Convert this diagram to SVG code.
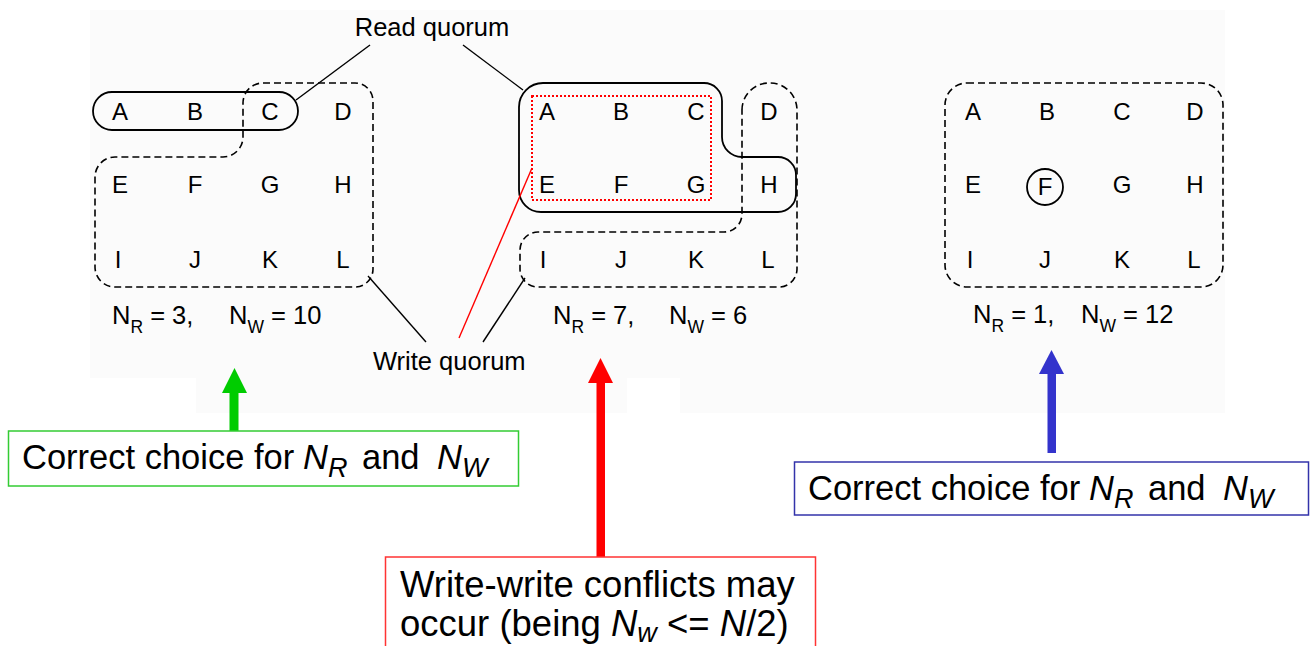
<svg xmlns="http://www.w3.org/2000/svg" width="1311" height="646" viewBox="0 0 1311 646">
  <style>
    text { font-family: "Liberation Sans", Arial, Helvetica, sans-serif; fill: #000; }
    .lbl { font-size: 24px; text-anchor: middle; }
    .cap { font-size: 25.5px; }
    .sub { font-size: 17.5px; }
    .big { font-size: 34.5px; }
    .warn { font-size: 36.5px; }
    .bsub { font-size: 27px; font-style: italic; }
    .it { font-style: italic; }
    .solid { fill: none; stroke: #000; stroke-width: 1.8; }
    .dash { fill: none; stroke: #000; stroke-width: 1.6; stroke-dasharray: 7 4; }
    .lead { stroke: #000; stroke-width: 1.4; fill: none; }
  </style>

  <!-- faint backdrop behind the quorum figure -->
  <rect x="0" y="0" width="1311" height="646" fill="#ffffff"/>
  <path d="M 90,10 H 1225 V 413 H 680 V 378 H 627 V 413 H 196 V 378 H 90 Z" fill="#fbfbfb"/>

  <!-- left panel: N_R = 3, N_W = 10 -->
  <g id="panel-left">
    <rect class="solid" x="93" y="92" width="205" height="38" rx="19"/>
    <path class="dash" d="M 263,83 H 355 A 18 18 0 0 1 373,101 V 269 A 18 18 0 0 1 355,287 H 115 A 20 20 0 0 1 95,267 V 177 A 20 20 0 0 1 115,157 H 223 A 20 20 0 0 0 243,137 V 103 A 20 20 0 0 1 263,83 Z"/>
    <text class="lbl" x="120" y="120">A</text>
    <text class="lbl" x="195" y="120">B</text>
    <text class="lbl" x="270" y="120">C</text>
    <text class="lbl" x="343" y="120">D</text>
    <text class="lbl" x="120" y="193">E</text>
    <text class="lbl" x="195" y="193">F</text>
    <text class="lbl" x="270" y="193">G</text>
    <text class="lbl" x="343" y="193">H</text>
    <text class="lbl" x="118" y="268">I</text>
    <text class="lbl" x="195" y="268">J</text>
    <text class="lbl" x="270" y="268">K</text>
    <text class="lbl" x="343" y="268">L</text>
    <text class="cap" y="324"><tspan x="112">N</tspan><tspan class="sub" dy="9">R</tspan><tspan dy="-9"> = 3,</tspan><tspan x="229">N</tspan><tspan class="sub" dy="9">W</tspan><tspan dy="-9"> = 10</tspan></text>
  </g>

  <!-- middle panel: N_R = 7, N_W = 6 -->
  <g id="panel-middle">
    <path class="solid" d="M 543,83 H 704 A 18 18 0 0 1 722,101 V 137 A 20 20 0 0 0 742,157 H 778 A 18 18 0 0 1 796,175 V 194 A 18 18 0 0 1 778,212 H 541 A 22 22 0 0 1 519,190 V 107 A 24 24 0 0 1 543,83 Z"/>
    <rect x="532" y="96" width="179" height="104" fill="none" stroke="#ff0000" stroke-width="2" stroke-dasharray="2 2"/>
    <path class="dash" d="M 742,110 A 27 27 0 0 1 769,83 H 770 A 27 27 0 0 1 797,110 V 269 A 18 18 0 0 1 779,287 H 538 A 18 18 0 0 1 520,269 V 250 A 18 18 0 0 1 538,232 H 724 A 18 18 0 0 0 742,214 Z"/>
    <text class="lbl" x="547" y="120">A</text>
    <text class="lbl" x="621" y="120">B</text>
    <text class="lbl" x="696" y="120">C</text>
    <text class="lbl" x="769" y="120">D</text>
    <text class="lbl" x="547" y="193">E</text>
    <text class="lbl" x="621" y="193">F</text>
    <text class="lbl" x="696" y="193">G</text>
    <text class="lbl" x="769" y="193">H</text>
    <text class="lbl" x="543" y="268">I</text>
    <text class="lbl" x="621" y="268">J</text>
    <text class="lbl" x="696" y="268">K</text>
    <text class="lbl" x="768" y="268">L</text>
    <text class="cap" y="324"><tspan x="553">N</tspan><tspan class="sub" dy="9">R</tspan><tspan dy="-9"> = 7,</tspan><tspan x="669">N</tspan><tspan class="sub" dy="9">W</tspan><tspan dy="-9"> = 6</tspan></text>
  </g>

  <!-- right panel: N_R = 1, N_W = 12 -->
  <g id="panel-right">
    <rect class="dash" x="945" y="83" width="278" height="204" rx="22"/>
    <circle class="solid" cx="1045" cy="187" r="18"/>
    <text class="lbl" x="973" y="120">A</text>
    <text class="lbl" x="1047" y="120">B</text>
    <text class="lbl" x="1122" y="120">C</text>
    <text class="lbl" x="1195" y="120">D</text>
    <text class="lbl" x="973" y="193">E</text>
    <text class="lbl" x="1045" y="195">F</text>
    <text class="lbl" x="1122" y="193">G</text>
    <text class="lbl" x="1195" y="193">H</text>
    <text class="lbl" x="970" y="268">I</text>
    <text class="lbl" x="1045" y="268">J</text>
    <text class="lbl" x="1122" y="268">K</text>
    <text class="lbl" x="1194" y="268">L</text>
    <text class="cap" y="323"><tspan x="973">N</tspan><tspan class="sub" dy="9">R</tspan><tspan dy="-9"> = 1,</tspan><tspan x="1081">N</tspan><tspan class="sub" dy="9">W</tspan><tspan dy="-9"> = 12</tspan></text>
  </g>

  <!-- quorum captions -->
  <g id="label-read">
    <text class="cap" x="432" y="36" text-anchor="middle">Read quorum</text>
  </g>
  <g id="label-write">
    <text class="cap" x="373" y="370">Write quorum</text>
  </g>

  <!-- leader lines and arrows -->
  <g id="connectors">
    <line class="lead" x1="370" y1="45" x2="296" y2="100"/>
    <line class="lead" x1="463" y1="45" x2="523" y2="90"/>
    <line class="lead" x1="368" y1="276" x2="426" y2="342"/>
    <line class="lead" x1="525" y1="278" x2="483" y2="342"/>
    <line x1="532" y1="168" x2="459" y2="338" stroke="#ff0000" stroke-width="1.4"/>

    <rect x="229.5" y="390" width="9" height="41" fill="#00cc00"/>
    <polygon points="222,393 247,393 234.5,368" fill="#00cc00"/>

    <rect x="596.5" y="380" width="8.5" height="177" fill="#ff0000"/>
    <polygon points="588,383 613,383 600.5,358" fill="#ff0000"/>

    <rect x="1047.5" y="371" width="8.5" height="82" fill="#3333cc"/>
    <polygon points="1039,374 1064,374 1051.5,350" fill="#3333cc"/>
  </g>

  <!-- annotation boxes -->
  <g id="note-left">
    <rect x="8.5" y="431" width="510" height="55" fill="#ffffff" stroke="#33cc33" stroke-width="1.5"/>
    <text class="big" y="469"><tspan x="22">Correct choice for</tspan><tspan class="it" x="303">N</tspan><tspan class="bsub" dy="8">R</tspan><tspan dy="-8" x="362">and</tspan><tspan class="it" x="437">N</tspan><tspan class="bsub" dy="8">W</tspan></text>
  </g>
  <g id="note-middle">
    <rect x="385.5" y="557" width="430" height="100" fill="#ffffff" stroke="#ff3333" stroke-width="1.5"/>
    <text class="warn" x="400" y="597">Write-write conflicts may</text>
    <text class="warn" x="400" y="636">occur (being <tspan class="it">N</tspan><tspan class="bsub" dy="6">w</tspan><tspan dy="-6"> &lt;= </tspan><tspan class="it">N</tspan>/2)</text>
  </g>
  <g id="note-right">
    <rect x="794.5" y="462" width="514" height="53" fill="#ffffff" stroke="#3333aa" stroke-width="1.5"/>
    <text class="big" y="500"><tspan x="808">Correct choice for</tspan><tspan class="it" x="1089">N</tspan><tspan class="bsub" dy="8">R</tspan><tspan dy="-8" x="1148">and</tspan><tspan class="it" x="1223">N</tspan><tspan class="bsub" dy="8">W</tspan></text>
  </g>
</svg>
